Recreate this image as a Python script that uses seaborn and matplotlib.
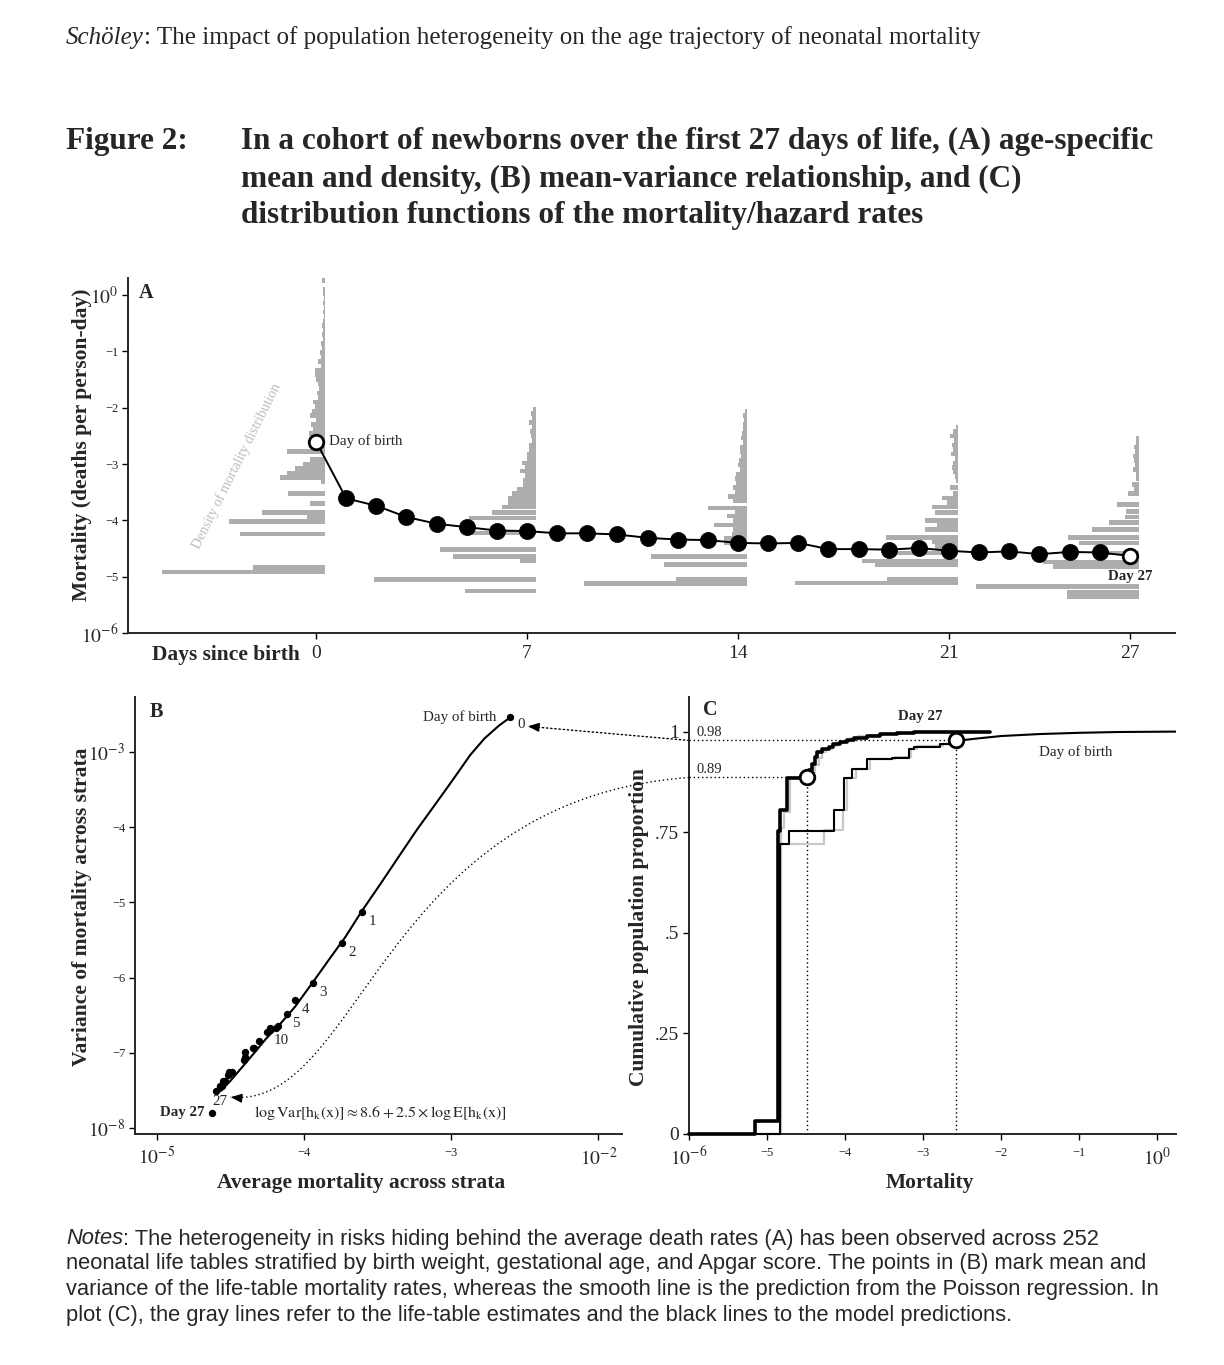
import numpy as np
import pandas as pd
import seaborn as sns
import matplotlib.pyplot as plt
from matplotlib.patches import ConnectionPatch, PathPatch
from matplotlib.path import Path
from matplotlib.transforms import IdentityTransform

sns.set_theme(style='ticks')
plt.rcParams['font.family'] = ['Liberation Serif', 'DejaVu Serif']
plt.rcParams['mathtext.fontset'] = 'stix'
plt.rcParams['axes.linewidth'] = 1.4

# ── data (log10 scale) ───────────────────────────────────────────────────────
days = list(range(28))
mean_log = [-2.60, -3.61, -3.74, -3.94, -4.06, -4.12, -4.18, -4.19, -4.23, -4.23,
            -4.25, -4.31, -4.34, -4.35, -4.40, -4.41, -4.40, -4.51, -4.51, -4.52,
            -4.49, -4.54, -4.57, -4.55, -4.60, -4.56, -4.57, -4.63]
var_log = [-2.54, -5.13, -5.54, -6.07, -6.30, -6.49, -6.64, -6.67, -6.70, -6.67,
           -6.72, -6.85, -6.93, -6.94, -7.06, -7.09, -6.99, -7.26, -7.28, -7.29,
           -7.26, -7.37, -7.44, -7.37, -7.51, -7.44, -7.45, -7.80]

# poisson regression prediction (smooth line in B)
fit_mean = [-4.569, -4.50, -4.43, -4.343, -4.258, -4.16, -4.063, -3.944, -3.82, -3.72,
            -3.613, -3.48, -3.36, -3.236, -3.114, -2.993, -2.871, -2.774, -2.676, -2.599]
fit_var = [-7.51, -7.37, -7.21, -7.01, -6.81, -6.61, -6.39, -6.07, -5.73, -5.46,
           -5.13, -4.75, -4.40, -4.04, -3.71, -3.38, -3.04, -2.82, -2.65, -2.54]

# density of mortality across strata (A): bin centre (log10) and bar length (days)
hist_days = [0, 7, 14, 21, 27]
hist_centers = {
    0: [0.26, 0.10, 0.02, -0.06, -0.14, -0.22, -0.30, -0.38, -0.46, -0.54, -0.62, -0.70,
        -0.78, -0.86, -0.94, -1.02, -1.10, -1.18, -1.26, -1.34, -1.42, -1.50, -1.58,
        -1.66, -1.74, -1.82, -1.90, -1.98, -2.06, -2.14, -2.22, -2.30, -2.38, -2.46,
        -2.54, -2.62, -2.70, -2.78, -2.92, -3.00, -3.08, -3.16, -3.24, -3.32, -3.52,
        -3.70, -3.86, -3.94, -4.02, -4.24, -4.84, -4.92],
    7: [-2.02, -2.10, -2.18, -2.26, -2.34, -2.42, -2.50, -2.58, -2.66, -2.74, -2.82,
        -2.90, -2.98, -3.06, -3.12, -3.20, -3.28, -3.36, -3.44, -3.52, -3.60, -3.68,
        -3.76, -3.86, -3.96, -4.22, -4.52, -4.64, -4.72, -5.05, -5.25],
    14: [-2.06, -2.14, -2.22, -2.30, -2.38, -2.46, -2.54, -2.62, -2.70, -2.78, -2.86,
         -2.94, -3.02, -3.10, -3.18, -3.26, -3.34, -3.42, -3.50, -3.58, -3.66, -3.78,
         -3.86, -3.92, -4.00, -4.08, -4.16, -4.24, -4.32, -4.40, -4.64, -4.78, -5.04, -5.12],
    21: [-2.34, -2.42, -2.50, -2.58, -2.66, -2.74, -2.82, -2.90, -2.98, -3.06, -3.14,
         -3.22, -3.30, -3.42, -3.52, -3.60, -3.68, -3.76, -3.86, -4.00, -4.08, -4.16,
         -4.30, -4.38, -4.46, -4.58, -4.72, -4.78, -5.05, -5.11],
    27: [-2.54, -2.62, -2.70, -2.78, -2.86, -2.94, -3.02, -3.10, -3.18, -3.26, -3.36,
         -3.44, -3.52, -3.72, -3.84, -3.94, -4.04, -4.16, -4.30, -4.40, -4.58, -4.74,
         -4.82, -5.17, -5.28, -5.36],
}
hist_lengths = {
    0: [0.10, 0.06, 0.08, 0.05, 0.07, 0.04, 0.08, 0.05, 0.06, 0.09, 0.07, 0.10,
        0.08, 0.12, 0.10, 0.18, 0.12, 0.22, 0.15, 0.35, 0.33, 0.30, 0.25,
        0.20, 0.28, 0.22, 0.40, 0.35, 0.42, 0.50, 0.30, 0.48, 0.40, 0.55,
        0.45, 0.30, 0.35, 1.27, 0.50, 0.72, 1.00, 1.27, 1.49, 0.15, 1.23,
        0.50, 2.10, 0.60, 3.18, 2.82, 2.38, 5.40],
    7: [0.10, 0.18, 0.12, 0.22, 0.15, 0.20, 0.18, 0.15, 0.25, 0.22, 0.30,
        0.30, 0.47, 0.36, 0.53, 0.36, 0.42, 0.42, 0.64, 0.80, 0.92, 0.92,
        1.14, 1.47, 2.24, 2.24, 3.18, 2.76, 0.53, 5.37, 2.35],
    14: [0.08, 0.12, 0.10, 0.15, 0.12, 0.18, 0.20, 0.15, 0.22, 0.25, 0.20,
         0.28, 0.30, 0.25, 0.35, 0.40, 0.38, 0.45, 0.40, 0.62, 0.45, 1.30,
         0.40, 0.67, 0.45, 1.10, 0.45, 0.50, 0.75, 0.75, 3.20, 2.77, 2.36, 5.40],
    21: [0.08, 0.15, 0.25, 0.12, 0.20, 0.15, 0.22, 0.10, 0.18, 0.20, 0.15,
         0.10, 0.05, 0.28, 0.15, 0.52, 0.35, 0.86, 0.75, 1.10, 0.70, 1.10,
         2.39, 0.86, 0.75, 2.20, 3.18, 2.76, 2.36, 5.40],
    27: [0.10, 0.08, 0.15, 0.12, 0.20, 0.15, 0.12, 0.18, 0.10, 0.08, 0.22,
         0.15, 0.36, 0.72, 0.41, 0.46, 1.00, 1.54, 2.35, 2.00, 1.20, 3.17,
         2.84, 5.40, 2.37, 2.37],
}

# cumulative distribution of mortality (C)
cdf27_model_x = [-6.00, -5.16, -4.86, -4.83, -4.75, -4.46, -4.43, -4.39, -4.36, -4.29, -4.21,
                 -4.15, -4.06, -3.97, -3.89, -3.72, -3.55, -3.33, -3.12, -2.69, -2.14]
cdf27_model_y = [0.000, 0.033, 0.754, 0.804, 0.885, 0.904, 0.920, 0.937, 0.949, 0.958, 0.962,
                 0.970, 0.974, 0.978, 0.984, 0.989, 0.993, 0.996, 0.998, 1.000, 1.000]
cdf27_lt_x = [-6.00, -5.16, -4.82, -4.78, -4.70, -4.42, -4.38, -4.33, -4.30, -4.24, -4.17,
              -4.10, -4.01, -3.92, -3.84, -3.68, -3.50, -3.30, -3.08, -2.66, -2.30]
cdf27_lt_y = [0.000, 0.033, 0.760, 0.800, 0.885, 0.900, 0.918, 0.935, 0.950, 0.958, 0.965,
              0.972, 0.977, 0.983, 0.988, 0.991, 0.994, 0.996, 0.998, 1.000, 1.000]
cdf0_model_x = [-6.00, -4.84, -4.72, -4.14, -4.02, -3.91, -3.72, -3.40, -3.18, -3.12, -2.78, -2.65, -2.58]
cdf0_model_y = [0.000, 0.721, 0.754, 0.805, 0.885, 0.908, 0.931, 0.934, 0.958, 0.962, 0.970, 0.976, 0.977]
cdf0_tail_x = [-2.58, -2.30, -2.00, -1.50, -1.00, -0.50, 0.24]
cdf0_tail_y = [0.977, 0.983, 0.989, 0.994, 0.997, 0.999, 1.000]
cdf0_lt_x = [-6.00, -4.82, -4.27, -4.03, -3.98, -3.86, -3.68, -3.36, -3.15, -3.08, -2.75, -2.62, -2.50]
cdf0_lt_y = [0.000, 0.720, 0.755, 0.805, 0.885, 0.908, 0.931, 0.936, 0.958, 0.963, 0.970, 0.976, 0.977]

cdf_mark_x = [-4.49, -2.58]
cdf_mark_y = [0.886, 0.978]
cdf_mark_lab = ['0.89', '0.98']

# ── figure ───────────────────────────────────────────────────────────────────
W, H = 1224, 1365
fig = plt.figure(figsize=(W / 100, H / 100), dpi=100)
renderer = fig.canvas.get_renderer()

def fx(px):
    return px / W

def fy(py):
    return 1 - py / H

def box(left, top, right, bottom):
    return [fx(left), fy(bottom), (right - left) / W, (bottom - top) / H]

MINUS = '\u2212'
GRAY = '#adadad'
DOT = (0, (1, 2))
LABEL_FS = 15.5
TICK_FS = 14
NOTE_FS = 15.75

# header & title
t = fig.text(fx(66), fy(38), 'Schöley', style='italic', fontsize=18, va='center')
bb = t.get_window_extent(renderer)
fig.text(bb.x1 / W, fy(38), ': The impact of population heterogeneity on the age trajectory of neonatal mortality',
         fontsize=18, va='center')
fig.text(fx(66), fy(141), 'Figure 2:', fontsize=22.5, fontweight='bold', va='center')
title_lines = ['In a cohort of newborns over the first 27 days of life, (A) age-specific',
               'mean and density, (B) mean-variance relationship, and (C)',
               'distribution functions of the mortality/hazard rates']
for ypx, line in zip([141, 179, 216], title_lines):
    fig.text(fx(241), fy(ypx), line, fontsize=22.5, fontweight='bold', va='center')

# notes
notes = [': The heterogeneity in risks hiding behind the average death rates (A) has been observed across 252',
         'neonatal life tables stratified by birth weight, gestational age, and Apgar score. The points in (B) mark mean and',
         'variance of the life-table mortality rates, whereas the smooth line is the prediction from the Poisson regression. In',
         'plot (C), the gray lines refer to the life-table estimates and the black lines to the model predictions.']
sans = ['Liberation Sans', 'DejaVu Sans']
t = fig.text(fx(66), fy(1239), 'Notes', style='italic', family=sans, fontsize=NOTE_FS, va='center')
bb = t.get_window_extent(renderer)
fig.text(bb.x1 / W, fy(1239), notes[0], family=sans, fontsize=NOTE_FS, va='center')
for ypx, line in zip([1264, 1290, 1316], notes[1:]):
    fig.text(fx(66), fy(ypx), line, family=sans, fontsize=NOTE_FS, va='center')


def style_axis(ax):
    sns.despine(ax=ax)
    ax.tick_params(direction='out', length=4, width=1, color='black', labelsize=TICK_FS)
    ax.tick_params(axis='x', pad=5)
    ax.tick_params(axis='y', pad=3)
    ax.set_facecolor('none')


def log_labels(vals):
    labs = []
    for i, v in enumerate(vals):
        if i == 0 or i == len(vals) - 1:
            labs.append('$10^{%d}$' % v)
        else:
            labs.append(MINUS + str(abs(v)))
    return labs


def shrink_inner(labels):
    for lab in labels[1:-1]:
        lab.set_fontsize(9)


# ── Panel A ──────────────────────────────────────────────────────────────────
axA = fig.add_axes(box(128, 278, 1175, 633))
for d in hist_days:
    axA.barh(hist_centers[d], [-v for v in hist_lengths[d]], left=d + 0.3, height=0.08,
             color=GRAY, linewidth=0, zorder=1)
sns.lineplot(x=days, y=mean_log, ax=axA, color='black', lw=1.4, zorder=3)
sns.scatterplot(x=days[1:-1], y=mean_log[1:-1], ax=axA, color='black', s=135,
                edgecolor='black', linewidth=0.5, zorder=4)
sns.scatterplot(x=[days[0], days[-1]], y=[mean_log[0], mean_log[-1]], ax=axA, color='white',
                s=110, edgecolor='black', linewidth=2, zorder=5)
axA.set_xlim(-6.24, 28.5)
axA.set_ylim(-6, 0.305)
axA.set_xticks(hist_days)
yt = list(range(-6, 1))
axA.set_yticks(yt)
axA.set_yticklabels(log_labels(yt))
style_axis(axA)
shrink_inner(axA.get_yticklabels())
axA.set_xlabel('')
axA.set_ylabel('Mortality (deaths per person-day)', fontsize=LABEL_FS, fontweight='bold')
axA.yaxis.set_label_coords(-0.034, 0.53)
axA.text(-0.55, -0.062, 'Days since birth', transform=axA.get_xaxis_transform(),
         ha='right', va='center', fontsize=LABEL_FS, fontweight='bold')
axA.text(0.0105, 0.958, 'A', transform=axA.transAxes, fontsize=14.5, fontweight='bold', va='center')
axA.annotate('Day of birth', xy=(days[0], mean_log[0]), xytext=(9.5, 0), textcoords='offset points',
             ha='left', va='center', fontsize=10.8)
axA.annotate('Day 27', xy=(days[-1], mean_log[-1]), xytext=(0, -14.5), textcoords='offset points',
             ha='center', va='center', fontsize=10.8, fontweight='bold')
axA.text(-2.65, -3.03, 'Density of mortality distribution', rotation=63.5, rotation_mode='anchor',
         ha='center', va='center', color='#bdbdbd', fontsize=10.2)

# ── Panel B ──────────────────────────────────────────────────────────────────
axB = fig.add_axes(box(135, 697, 622, 1134))
sns.lineplot(x=fit_mean, y=fit_var, ax=axB, color='black', lw=1.5, sort=False, estimator=None)
sns.scatterplot(x=mean_log, y=var_log, ax=axB, color='black', s=28, edgecolor='black', linewidth=0, zorder=4)
axB.set_xlim(-5.15, -1.84)
axB.set_ylim(-8.08, -2.27)
xt = [-5, -4, -3, -2]
axB.set_xticks(xt)
axB.set_xticklabels(log_labels(xt))
yt = list(range(-8, -2))
axB.set_yticks(yt)
axB.set_yticklabels(log_labels(yt))
style_axis(axB)
shrink_inner(axB.get_xticklabels())
shrink_inner(axB.get_yticklabels())
axB.set_xlabel('Average mortality across strata', fontsize=LABEL_FS, fontweight='bold')
axB.xaxis.set_label_coords(0.464, -0.089)
axB.set_ylabel('Variance of mortality across strata', fontsize=LABEL_FS, fontweight='bold')
axB.yaxis.set_label_coords(-0.088, 0.52)
axB.text(0.03, 0.965, 'B', transform=axB.transAxes, fontsize=14.5, fontweight='bold', va='center')

day_label_offsets = {0: (8, -5.5), 1: (7.5, -7), 2: (7, -7), 3: (7.5, -7), 4: (7, -6.5),
                     5: (7, -6.5), 10: (10, -6), 27: (6, 8)}
for d, off in day_label_offsets.items():
    axB.annotate(str(d), xy=(mean_log[d], var_log[d]), xytext=off, textcoords='offset points',
                 ha='center', va='center', fontsize=10.8)
axB.annotate('Day of birth', xy=(mean_log[0], var_log[0]), xytext=(-10, 0), textcoords='offset points',
             ha='right', va='center', fontsize=10.8)
axB.annotate('Day 27', xy=(mean_log[-1], var_log[-1]), xytext=(-5, 0), textcoords='offset points',
             ha='right', va='center', fontsize=10.8, fontweight='bold')
axB.text(-3.48, var_log[-1],
         r'$\log\mathrm{Var}\left[\mathrm{h_k(x)}\right] \approx 8.6 + 2.5\times\log\mathrm{E}\left[\mathrm{h_k(x)}\right]$',
         ha='center', va='center', fontsize=11.5)

# ── Panel C ──────────────────────────────────────────────────────────────────
axC = fig.add_axes(box(689, 697, 1176, 1134))
axC.step(cdf27_lt_x, cdf27_lt_y, where='post', color='#c8c8c8', lw=1.6, zorder=2, clip_on=False)
axC.step(cdf0_lt_x, cdf0_lt_y, where='post', color='#c8c8c8', lw=1.6, zorder=2, clip_on=False)
axC.step(cdf0_model_x, cdf0_model_y, where='post', color='black', lw=1.5, zorder=3, clip_on=False)
sns.lineplot(x=cdf0_tail_x, y=cdf0_tail_y, ax=axC, color='black', lw=1.5, zorder=3)
axC.step(cdf27_model_x, cdf27_model_y, where='post', color='black', lw=2.6, zorder=4, clip_on=False)
for mx, my, lab in zip(cdf_mark_x, cdf_mark_y, cdf_mark_lab):
    axC.plot([-6, mx], [my, my], color='black', lw=1, ls=DOT, zorder=1)
    axC.plot([mx, mx], [0, my], color='black', lw=1, ls=DOT, zorder=1)
    axC.text(-5.9, my + 0.004, lab, ha='left', va='bottom', fontsize=10.5)
sns.scatterplot(x=cdf_mark_x, y=cdf_mark_y, ax=axC, color='white', s=110, edgecolor='black',
                linewidth=2, zorder=6)
axC.set_xlim(-6, 0.24)
axC.set_ylim(0, 1.086)
xt = list(range(-6, 1))
axC.set_xticks(xt)
axC.set_xticklabels(log_labels(xt))
axC.set_yticks([0, 0.25, 0.5, 0.75, 1])
axC.set_yticklabels(['0', '.25', '.5', '.75', '1'])
style_axis(axC)
shrink_inner(axC.get_xticklabels())
axC.set_xlabel('Mortality', fontsize=LABEL_FS, fontweight='bold')
axC.xaxis.set_label_coords(0.495, -0.089)
axC.set_ylabel('Cumulative population proportion', fontsize=LABEL_FS, fontweight='bold')
axC.yaxis.set_label_coords(-0.083, 0.474)
axC.text(0.029, 0.97, 'C', transform=axC.transAxes, fontsize=14.5, fontweight='bold', va='center')
axC.text(-3.04, 1.037, 'Day 27', ha='center', va='center', fontsize=10.8, fontweight='bold')
axC.text(-1.04, 0.949, 'Day of birth', ha='center', va='center', fontsize=10.8)

# ── arrows linking C to B ────────────────────────────────────────────────────
tip0 = (-2.48, -2.66)
tip27 = (-4.50, -7.59)


def arrow_head(ax, tip, from_disp):
    tip_disp = ax.transData.transform(tip)
    v = np.asarray(from_disp) - tip_disp
    v = v / np.hypot(*v) * 7
    ax.annotate('', xy=tip, xytext=(v[0], v[1]), textcoords='offset points',
                arrowprops=dict(arrowstyle='-|>,head_length=0.7,head_width=0.28', color='black',
                                lw=0.8, shrinkA=0, shrinkB=0, mutation_scale=10))


start0 = axC.transData.transform((-6, cdf_mark_y[1]))
con = ConnectionPatch(xyA=(-6, cdf_mark_y[1]), coordsA=axC.transData, xyB=tip0, coordsB=axB.transData,
                      color='black', lw=1, ls=DOT)
fig.add_artist(con)
arrow_head(axB, tip0, start0)

p0 = axC.transData.transform((-6, cdf_mark_y[0]))
p3 = axB.transData.transform(tip27)
p1 = (380, H - 800)
p2 = (360, H - 1110)
path = Path([p0, p1, p2, p3], [Path.MOVETO, Path.CURVE4, Path.CURVE4, Path.CURVE4])
fig.add_artist(PathPatch(path, transform=IdentityTransform(), fill=False, lw=1, ls=DOT, color='black'))
arrow_head(axB, tip27, p2)

fig.savefig('out.png', dpi=100, facecolor='white')
